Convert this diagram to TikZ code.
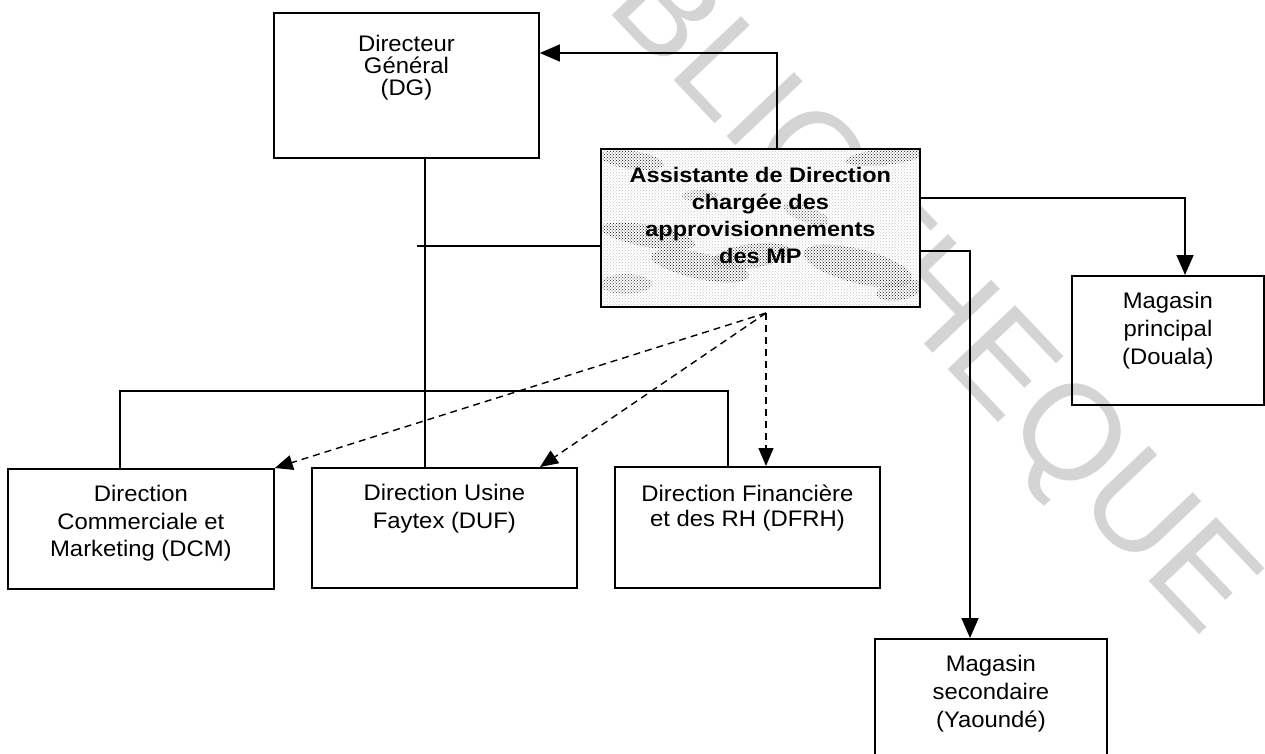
\documentclass[tikz,border=0pt]{standalone}
\usepackage{fontspec}
\setmainfont[FakeStretch=1.06]{Liberation Sans}
\newfontfamily\wmfont{Liberation Sans}
\newfontfamily\admfont[FakeStretch=1.12]{Liberation Sans}
\usetikzlibrary{arrows.meta,calc,patterns}

\begin{document}
\begin{tikzpicture}[x=1pt,y=-1pt,
  box/.style={draw=black, line width=1.8pt, inner sep=0pt, anchor=north west},
  lbl/.style={anchor=north, inner sep=0pt, align=center, font=\fontsize{22.5}{#1}\selectfont},
  link/.style={draw=black, line width=1.6pt},
  thin link/.style={draw=black, line width=1.2pt},
  tip/.style={-{Triangle[length=20pt,width=17pt]}},
  dash link/.style={draw=black, line width=1.4pt, dash pattern=on 7pt off 5pt,
                    -{Triangle[length=18pt,width=15pt]}},
  wm/.style={text=black!17, font=\wmfont\fontsize{135}{135}\selectfont, inner sep=0pt},
  grain/.style={pattern=crosshatch dots, pattern color=black!#1}
]
\useasboundingbox (0,0) rectangle (1265,753);
\clip (0,0) rectangle (1265,753);
\fill[white] (0,0) rectangle (1265,753);

% library stamp across the sheet
\node[wm, rotate=-46.5, anchor=base west] (stamp) at (517,-85) {BIBLIOTHEQUE};

% boxes
\node[box, minimum width=265pt, minimum height=145pt] (dg)   at (273,12)  {};
\node[box, draw=none, minimum width=317pt, minimum height=156pt] (adm) at (601,149) {};
\node[box, minimum width=192pt, minimum height=129pt] (mp)   at (1071,275) {};
\node[box, minimum width=266pt, minimum height=120pt] (dcm)  at (7,468)   {};
\node[box, minimum width=265pt, minimum height=120pt] (duf)  at (311,467) {};
\node[box, minimum width=265pt, minimum height=121pt] (dfrh) at (614,466) {};
\node[box, minimum width=232pt, minimum height=135pt] (ms)   at (874,638) {};

% textured fill of the assistant box
\begin{scope}
  \clip (adm.north west) rectangle (adm.south east);
  \fill[white] (adm.north west) rectangle (adm.south east);
  \fill[grain=45] (adm.north west) rectangle (adm.south east);
  \fill[white, opacity=0.5] (adm.north west) rectangle (adm.south east);
  % darker patches
  \fill[grain=90, rotate around={-8:(632,160)}]  (632,160) ellipse (32 and 9);
  \fill[grain=90, rotate around={6:(885,157)}]   (885,157) ellipse (40 and 8);
  \fill[grain=95, rotate around={-10:(648,236)}] (648,236) ellipse (48 and 11);
  \fill[grain=95, rotate around={-12:(700,266)}] (700,266) ellipse (50 and 13);
  \fill[grain=95, rotate around={8:(752,256)}]   (752,256) ellipse (40 and 12);
  \fill[grain=95, rotate around={-14:(858,266)}] (858,266) ellipse (56 and 17);
  \fill[grain=90, rotate around={10:(900,290)}]  (900,290) ellipse (24 and 10);
  \fill[grain=75] (626,284) ellipse (26 and 10);
  \fill[grain=70, rotate around={-20:(806,214)}] (806,214) ellipse (24 and 8);
  \fill[grain=70] (700,196) ellipse (18 and 6);
\end{scope}
\draw[line width=1.8pt] (adm.north west) rectangle (adm.south east);

% solid links
\coordinate (jdg) at (425,246);
\draw[thin link] (dg.south -| jdg) -- (duf.north -| jdg);
\draw[link] ([xshift=-8pt]jdg) -- (adm.west |- jdg);

\coordinate (busL) at (120,391);
\coordinate (busR) at (728,391);
\draw[link] (dcm.north -| busL) -- (busL) -- (busR) -- (dfrh.north -| busR);

\coordinate (upDG) at (777,53);
\draw[link, tip] (adm.north -| upDG) -- (upDG) -- (dg.east |- upDG);

\coordinate (toMP) at (1185,198);
\draw[link, tip] (adm.east |- toMP) -- (toMP) -- (mp.north -| toMP);

\coordinate (toMS) at (970,251);
\draw[link, tip] (adm.east |- toMS) -- (toMS) -- (ms.north -| toMS);

% dashed links
\coordinate (dsrc) at (766,313);
\coordinate (dufin) at (540,0);
\draw[dash link] (dsrc) -- (dcm.north east);
\draw[dash link] (dsrc) -- (dufin |- duf.north);
\draw[dash link] (dsrc) -- (dsrc |- dfrh.north);

% labels
\node[lbl=22.2] (dg-t)   at ($(dg.north)+(0,23)$)   {Directeur\\Général\\(DG)};
\node[lbl=27.5] (dcm-t)  at ($(dcm.north)+(0,17)$)  {Direction\\Commerciale et\\Marketing (DCM)};
\node[lbl=28]   (duf-t)  at ($(duf.north)+(0,17)$)  {Direction Usine\\Faytex (DUF)};
\node[lbl=24.7] (dfrh-t) at ($(dfrh.north)+(0,19)$) {Direction Financière\\et des RH (DFRH)};
\node[lbl=28]   (mp-t)   at ($(mp.north)+(0,17)$)   {Magasin\\principal\\(Douala)};
\node[lbl=28]   (ms-t)   at ($(ms.north)+(0,17)$)   {Magasin\\secondaire\\(Yaoundé)};
\node[anchor=north, inner sep=0pt, align=center,
      font=\admfont\bfseries\fontsize{21}{27}\selectfont]
     (adm-t) at ($(adm.north)+(0,18.5)$)
     {Assistante de Direction\\chargée des\\approvisionnements\\des MP};
\end{tikzpicture}
\end{document}
